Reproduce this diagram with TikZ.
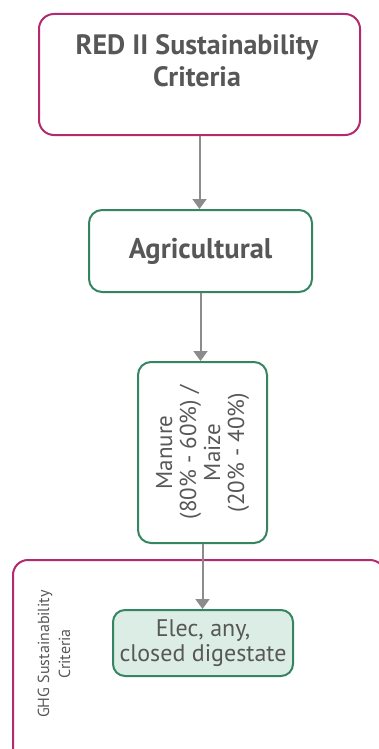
\documentclass[tikz,border=0pt]{standalone}
\usepackage{fontspec}
\setmainfont{PT Sans}
\usetikzlibrary{arrows.meta}

\definecolor{redII}{HTML}{B22A70}
\definecolor{agrigreen}{HTML}{358563}
\definecolor{elecfill}{HTML}{DCEDE5}
\definecolor{txtgray}{HTML}{575757}
\definecolor{arrowgray}{HTML}{8C8C8C}

\tikzset{
    box/.style={draw, line width=2pt, rounded corners=13pt, text=txtgray, align=center, inner sep=0pt},
    redbox/.style={box, draw=redII, rounded corners=15pt},
    greenbox/.style={box, draw=agrigreen},
    flow/.style={draw=arrowgray, line width=2pt, -{Triangle[length=10pt,width=14pt]}},
}

\begin{document}
\begin{tikzpicture}[x=1pt,y=-1pt]
        \useasboundingbox (0,0) rectangle (379,749);
        \clip (0,0) rectangle (379,749);

        % ~~~~ GHG ~~~~ %
        \draw[redII, line width=2pt, rounded corners=15pt] (13,560) rectangle (385,775);
        \node[rotate=90, text=txtgray, align=center, font=\fontsize{16}{21}\selectfont] (ghg) at (54,654)
            {GHG Sustainability\\Criteria};

        % ~~~~ Cajas ~~~~ %
        \node[redbox, minimum width=321pt, minimum height=121pt] (red) at (199.5,74.5) {};
        \node[text=txtgray, align=center, font=\fontsize{28}{32}\selectfont\bfseries] (redtxt) at (197,61)
            {RED II Sustainability\\Criteria};
        \node[greenbox, minimum width=223pt, minimum height=82pt,
            font=\fontsize{28.5}{30}\selectfont\bfseries] (agri) at (200.5,251) {Agricultural};
        \node[greenbox, rotate=90, minimum width=181pt, minimum height=129pt,
            font=\fontsize{23}{24}\selectfont] (manure) at (202.5,452.5)
            {Manure\\(80\% - 60\%) /\\Maize\\(20\% - 40\%)};
        \node[greenbox, fill=elecfill, minimum width=180pt, minimum height=66pt, rounded corners=12pt,
            font=\fontsize{24}{25}\selectfont] (elec) at (203,643) {Elec, any,\\closed digestate};

        % ~~~~ Flechas ~~~~ %
        \draw[flow] (red.south) -- (red.south |- agri.north);
        \draw[flow] (agri.south) -- (agri.south |- manure.east);
        \draw[flow] (manure.west) -- (manure.west |- elec.north);
    \end{tikzpicture}
\end{document}
